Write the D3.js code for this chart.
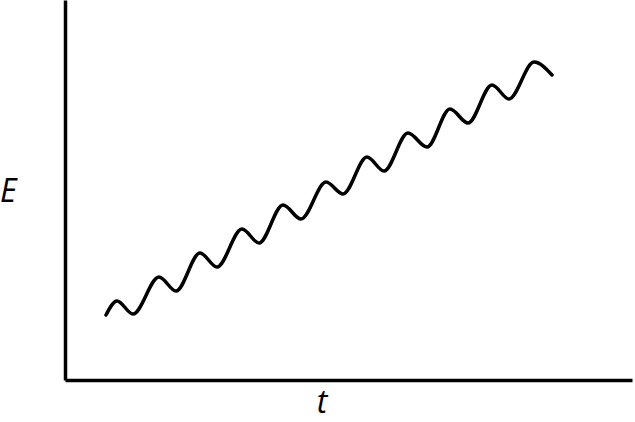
<!DOCTYPE html>
<html>
<head>
<meta charset="utf-8">
<script src="https://cdn.jsdelivr.net/npm/d3@7"></script>
<style>
  html, body { margin: 0; padding: 0; background: #fff; }
  .axis path { stroke: #000; stroke-width: 3.5; }
  .lbl { font-family: "Open Sans", sans-serif; font-style: italic; font-weight: 500; font-size: 32px; fill: #000; }
</style>
</head>
<body>
<div id="chart"></div>
<script>
// wave points (arbitrary units)
var tValues = [41, 52, 68, 94, 111, 135, 152, 177, 194, 218, 236, 261, 278, 302, 319, 343, 362, 385, 403, 427, 444, 469, 487];
var eValues = [65, 79, 66, 103, 89, 127, 113, 151, 137, 175, 161, 198, 186, 223, 209, 247, 233, 271, 257, 295, 281, 318, 305];
var xLabel = 't', yLabel = 'E';

var w = 635, h = 422;
var svg = d3.select('#chart').append('svg').attr('width', w).attr('height', h);

var xScale = d3.scaleLinear().domain([0, 567]).range([65, 632]);
var yScale = d3.scaleLinear().domain([0, 380]).range([380, 0]);

svg.append('g')
    .attr('class', 'axis')
    .attr('transform', 'translate(0,' + yScale(0) + ')')
    .call(d3.axisBottom(xScale).ticks(0).tickSizeOuter(0));

svg.append('g')
    .attr('class', 'axis')
    .attr('transform', 'translate(' + xScale(0) + ',0)')
    .call(d3.axisLeft(yScale).ticks(0).tickSizeOuter(0));

var pts = tValues.map(function(t, i){ return {t: t, e: eValues[i]}; });
var line = d3.line()
    .x(function(d){ return xScale(d.t); })
    .y(function(d){ return yScale(d.e); })
    .curve(d3.curveMonotoneX);

svg.append('path')
    .datum(pts)
    .attr('d', line)
    .attr('fill', 'none')
    .attr('stroke', '#000')
    .attr('stroke-width', 3.5)
    .attr('stroke-linecap', 'round');

svg.append('text').attr('class', 'lbl').attr('x', 0).attr('y', 202).text(yLabel);
svg.append('text').attr('class', 'lbl').attr('x', 322).attr('y', 413).attr('text-anchor', 'middle').text(xLabel);
</script>
</body>
</html>
